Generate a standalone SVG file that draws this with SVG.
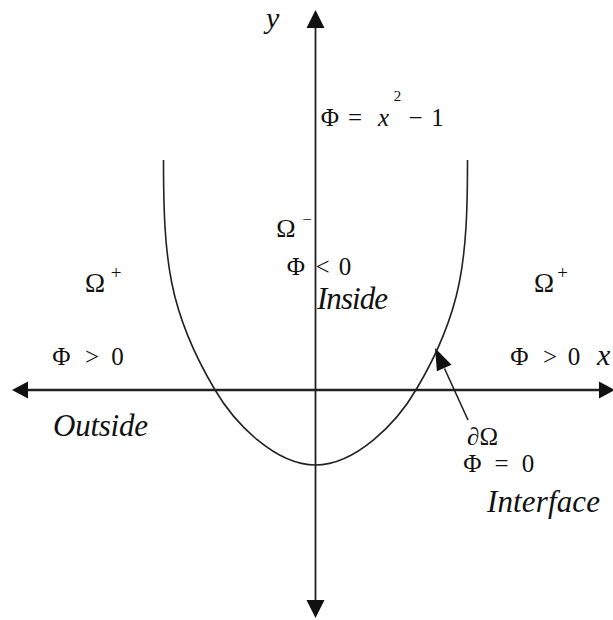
<svg xmlns="http://www.w3.org/2000/svg" width="613" height="620" viewBox="0 0 613 620">
  <style>
    .m { font-family: "Liberation Serif", "Times New Roman", serif; font-size: 25px; fill: #111; text-anchor: middle; }
    .it { font-family: "Liberation Serif", "Times New Roman", serif; font-style: italic; font-size: 31px; fill: #111; }
    .ax { stroke: #222; fill: none; }
    .ah { fill: #111; stroke: none; }
  </style>
  <rect width="613" height="620" fill="#ffffff"/>

  <g id="connectors">
    <line class="ax" x1="315.5" y1="24" x2="315.5" y2="604" stroke-width="1.8"/>
    <polygon class="ah" points="315.5,10 306.5,28 324.5,28"/>
    <polygon class="ah" points="315.5,618 306.5,600 324.5,600"/>
    <line class="ax" x1="24" y1="390" x2="602" y2="390" stroke="#333" stroke-width="2.4"/>
    <polygon class="ah" points="12,390 28,381.5 28,398.5"/>
    <polygon class="ah" points="615,390 599,381.5 599,398.5"/>
    <line class="ax" x1="468" y1="420" x2="444.5" y2="368.5" stroke="#333" stroke-width="1.6"/>
    <polygon class="ah" points="435,348 451.5,364.7 436.9,371.3"/>
  </g>

  <g id="curve">
    <path class="ax" stroke="#333" stroke-width="1.6" d="M163.5,160 C163.5,260 168.6,311.6 214.5,389 C234.4,423.4 275.5,465 315.5,465 C355.5,465 396.6,423.4 416.5,389 C462.4,311.6 467.5,260 467.5,160"/>
  </g>

  <g id="label-y">
    <text class="it" x="266" y="28" style="font-size:30px">y</text>
  </g>
  <g id="label-x">
    <text class="it" x="597" y="365" style="font-size:30px">x</text>
  </g>

  <g id="equation">
    <text class="m" x="330" y="126">Φ</text>
    <text class="m" x="355" y="126">=</text>
    <text class="m" x="383.5" y="126" style="font-style:italic">x</text>
    <text class="m" x="397.5" y="101" style="font-size:15px">2</text>
    <text class="m" x="415.5" y="126">−</text>
    <text class="m" x="437.5" y="126">1</text>
  </g>

  <g id="inside">
    <text class="m" x="286" y="237" style="font-size:26px">Ω</text>
    <text class="m" x="307" y="225" style="font-size:17px">−</text>
    <text class="m" x="296" y="275">Φ</text>
    <text class="m" x="322.5" y="275">&lt;</text>
    <text class="m" x="345" y="275">0</text>
    <text class="it" x="317" y="309" textLength="71">Inside</text>
  </g>

  <g id="outside-left">
    <text class="m" x="95" y="292" style="font-size:27px">Ω</text>
    <text class="m" x="116" y="279" style="font-size:19px">+</text>
    <text class="m" x="61.5" y="365">Φ</text>
    <text class="m" x="92" y="365">&gt;</text>
    <text class="m" x="117.5" y="365">0</text>
    <text class="it" x="53" y="436" textLength="95">Outside</text>
  </g>

  <g id="outside-right">
    <text class="m" x="544" y="292" style="font-size:27px">Ω</text>
    <text class="m" x="562.5" y="279" style="font-size:19px">+</text>
    <text class="m" x="519.5" y="365">Φ</text>
    <text class="m" x="550" y="365">&gt;</text>
    <text class="m" x="574" y="365">0</text>
  </g>

  <g id="interface">
    <text class="m" x="482.5" y="445" style="font-size:25px">∂Ω</text>
    <text class="m" x="472.5" y="472">Φ</text>
    <text class="m" x="501.5" y="472">=</text>
    <text class="m" x="528" y="472">0</text>
    <text class="it" x="487" y="512" textLength="113">Interface</text>
  </g>
</svg>
